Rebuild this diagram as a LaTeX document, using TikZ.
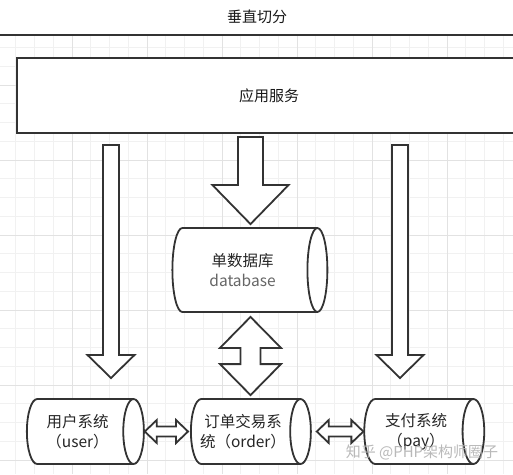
\documentclass[tikz,border=0pt]{standalone}
\usepackage{fontspec}
\setmainfont{Noto Sans CJK SC}
\usetikzlibrary{positioning,calc,shapes.geometric}

\definecolor{linegray}{HTML}{333333}
\definecolor{gridminor}{HTML}{F1F1F1}
\definecolor{gridmajor}{HTML}{E2E2E2}
\definecolor{textgray}{HTML}{666666}

\tikzset{
    box/.style={draw=linegray, line width=2pt, fill=white, font=\fontsize{15}{18}\selectfont, text=black!90},
    store/.style={cylinder, draw=linegray, line width=1.8pt, fill=white, shape aspect=0.5,
        align=center, font=\fontsize{15.5}{20}\selectfont, text=black!85},
    fat/.style={draw=linegray, line width=1.8pt, fill=white, line join=miter},
}

% block arrow pointing down: tail, tip, shaft half width, head half width, head length
\newcommand{\fatdown}[5]{%
    \draw[fat] ($(#1)+(-#3,0)$) -- ($(#2)+(-#3,-#5)$) -- ($(#2)+(-#4,-#5)$) -- (#2)
        -- ($(#2)+(#4,-#5)$) -- ($(#2)+(#3,-#5)$) -- ($(#1)+(#3,0)$) -- cycle;}
% double block arrow, vertical: upper tip, lower tip, shaft, head, head length
\newcommand{\fatupdown}[5]{%
    \draw[fat] (#1) -- ($(#1)+(#4,#5)$) -- ($(#1)+(#3,#5)$) -- ($(#2)+(#3,-#5)$) -- ($(#2)+(#4,-#5)$)
        -- (#2) -- ($(#2)+(-#4,-#5)$) -- ($(#2)+(-#3,-#5)$) -- ($(#1)+(-#3,#5)$) -- ($(#1)+(-#4,#5)$) -- cycle;}
% double block arrow, horizontal: left tip, right tip, shaft, head, head length
\newcommand{\fatleftright}[5]{%
    \draw[fat] (#1) -- ($(#1)+(#5,-#4)$) -- ($(#1)+(#5,-#3)$) -- ($(#2)+(-#5,-#3)$) -- ($(#2)+(-#5,-#4)$)
        -- (#2) -- ($(#2)+(-#5,#4)$) -- ($(#2)+(-#5,#3)$) -- ($(#1)+(#5,#3)$) -- ($(#1)+(#5,#4)$) -- cycle;}

\begin{document}
\begin{tikzpicture}[x=1pt,y=-1pt]
    \useasboundingbox[fill=white] (0,0) rectangle (513,474);

    % background grid
    \foreach \k in {0,...,27}
        \draw[gridminor, line width=0.7pt] ({-3+18.75*\k},36) -- ({-3+18.75*\k},474);
    \foreach \k in {2,...,24}
        \draw[gridminor, line width=0.7pt] (0,{10+18.75*\k}) -- (513,{10+18.75*\k});
    \foreach \k in {1,...,6}
        \draw[gridmajor, line width=0.8pt] ({-3+75*\k},36) -- ({-3+75*\k},474);
    \foreach \k in {1,...,6}
        \draw[gridmajor, line width=0.8pt] (0,{10+75*\k}) -- (513,{10+75*\k});

    % title and divider
    \node[font=\fontsize{15}{18}\selectfont, text=black!90] (title) at (257,17) {垂直切分};
    \draw[linegray, line width=2pt] (0,35) -- (513,35);

    % boxes
    \node[box, anchor=north west, minimum width=504pt, minimum height=75pt] (app) at (16,57) {应用服务};
    \node[store, minimum height=155pt, minimum width=84pt] (db) at (242.5,270)
        {单数据库\\\textcolor{textgray}{database}};
    \node[store, minimum height=117pt, minimum width=65pt] (user) at (77.5,431.5) {用户系统\\（user）};
    \node[store, minimum height=114pt, minimum width=65pt] (order) at (243,431.5) {订单交易系\\统（order）};
    \node[store, minimum height=120pt, minimum width=65pt] (pay) at (416,431.5) {支付系统\\（pay）};

    % arrow ends
    \coordinate (axis) at (250.5,0);
    \coordinate (left-top) at (111,145);
    \coordinate (left-tip) at (111,378);
    \coordinate (right-top) at (400,145);
    \coordinate (right-tip) at (400,378);
    \coordinate (mid-top) at ([yshift=-3pt]app.south -| axis);
    \coordinate (mid-tip) at ([yshift=3pt]db.north -| axis);
    \coordinate (db-tip) at ([yshift=-4pt]db.south -| axis);
    \coordinate (order-tip) at ([yshift=3pt]order.north -| axis);
    \coordinate (uo-left) at (user.east);
    \coordinate (uo-right) at ([xshift=-2pt]order.west);
    \coordinate (op-left) at ([xshift=5pt]order.east);
    \coordinate (op-right) at (pay.west);

    \fatdown{left-top}{left-tip}{8}{23.5}{23}
    \fatdown{right-top}{right-tip}{8}{23.5}{23}
    \fatdown{mid-top}{mid-tip}{12.5}{38}{39}
    \fatupdown{db-tip}{order-tip}{10}{30.5}{31}
    \fatleftright{uo-left}{uo-right}{5}{11.5}{12}
    \fatleftright{op-left}{op-right}{5}{11.5}{12}

    % watermark
    \node[font=\fontsize{15}{18}\selectfont, text=black!30, opacity=0.9] (mark) at (422,452) {知乎 @PHP架构师圈子};
\end{tikzpicture}
\end{document}
